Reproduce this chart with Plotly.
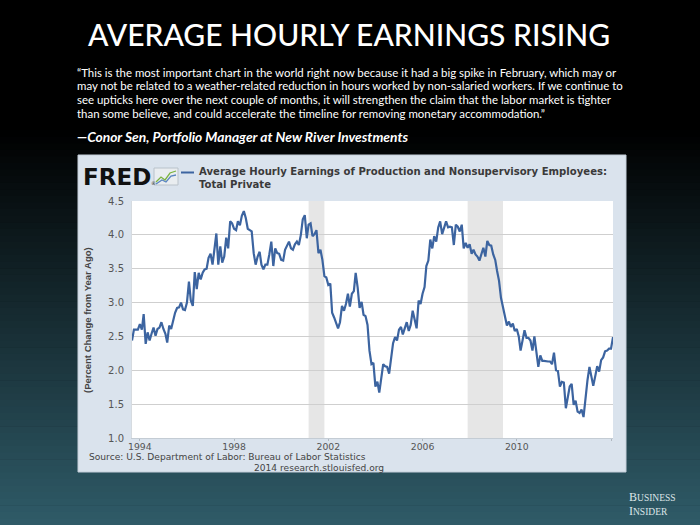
import plotly.graph_objects as go
import pandas as pd

# ---------------- data ----------------
series_start = "1993-09-01"
# Average Hourly Earnings of Production and Nonsupervisory Employees: Total Private,
# percent change from year ago (monthly)
ahe_yoy = [
    2.44, 2.60, 2.60, 2.60, 2.68, 2.60, 2.83, 2.39, 2.56, 2.44,
    2.54, 2.63, 2.51, 2.61, 2.63, 2.71, 2.61, 2.54, 2.41, 2.66,
    2.61, 2.76, 2.85, 2.92, 2.93, 3.00, 2.90, 2.89, 3.00, 3.31,
    3.03, 2.95, 3.45, 3.20, 3.44, 3.34, 3.44, 3.49, 3.50, 3.66,
    3.72, 3.56, 3.83, 4.02, 3.56, 3.83, 3.59, 3.68, 3.96, 3.80,
    4.20, 4.17, 4.09, 4.07, 4.20, 4.14, 4.28, 4.35, 4.25, 4.09,
    4.07, 4.05, 3.73, 3.56, 3.68, 3.75, 3.56, 3.49, 3.56, 3.56,
    3.71, 3.90, 3.54, 3.80, 3.73, 3.72, 3.63, 3.62, 3.78, 3.84,
    3.90, 3.80, 3.78, 3.86,
    3.90, 3.85, 4.00, 4.23, 4.29, 3.95, 4.15, 4.17, 3.98, 4.01,
    4.07, 3.73, 3.78, 3.63, 3.39, 3.37, 3.26, 3.28, 2.85, 2.78,
    2.71, 2.62, 2.71, 2.95, 2.88, 2.98, 3.13, 2.94, 3.13, 3.17,
    3.44, 3.22, 2.92, 3.01, 2.82, 2.80, 2.67, 2.29, 2.09, 2.11,
    1.76, 1.83, 1.67, 1.85, 2.09, 2.06, 2.05, 1.95, 2.17, 2.40,
    2.49, 2.44, 2.60, 2.64, 2.53, 2.64, 2.71, 2.58, 2.67, 2.88,
    2.72, 2.62, 3.03, 2.98, 3.13, 3.23, 3.54, 3.62, 3.93, 3.80,
    3.98, 3.90, 4.11, 4.20, 4.01, 4.12, 4.20, 4.11, 4.12, 4.11,
    3.85, 4.15, 4.12, 4.05,
    4.15, 3.80, 3.88, 3.81, 3.86, 3.72, 3.78, 3.71, 3.68, 3.62,
    3.72, 3.81, 3.68, 3.91, 3.85, 3.84, 3.71, 3.63, 3.47, 3.32,
    3.07, 2.93, 2.76, 2.66, 2.72, 2.64, 2.69, 2.58, 2.61, 2.50,
    2.29, 2.44, 2.59, 2.48, 2.48, 2.44, 2.29, 2.50, 2.24, 2.05,
    2.22, 2.14, 2.14, 2.13, 2.13, 2.13, 2.09, 2.26, 2.00, 1.99,
    1.76, 1.83, 1.82, 1.44, 1.60, 1.76, 1.80, 1.49, 1.55, 1.39,
    1.37, 1.42, 1.31, 1.61, 1.85, 2.05, 1.91, 1.77, 1.91, 2.06,
    1.98, 2.15, 2.19, 2.28, 2.29, 2.32, 2.32, 2.49,
]
months = pd.date_range(series_start, periods=len(ahe_yoy), freq="MS")

recession_start = ["2001-03-01", "2007-12-01"]
recession_end = ["2001-11-01", "2009-06-01"]

x_tick_dates = ["1994-01-01", "1998-01-01", "2002-01-01", "2006-01-01", "2010-01-01", "2014-01-01"]
x_tick_labels = ["1994", "1998", "2002", "2006", "2010", ""]
y_tick_values = [1.0, 1.5, 2.0, 2.5, 3.0, 3.5, 4.0, 4.5]

title_text = "AVERAGE HOURLY EARNINGS RISING"
quote_lines = [
    "\u201cThis is the most important chart in the world right now because it had a big spike in February, which may or",
    "may not be related to a weather-related reduction in hours worked by non-salaried workers. If we continue to",
    "see upticks here over the next couple of months, it will strengthen the claim that the labor market is tighter",
    "than some believe, and could accelerate the timeline for removing monetary accommodation.\u201d",
]
attribution = "\u2014Conor Sen, Portfolio Manager at New River Investments"
series_name = ["Average Hourly Earnings of Production and Nonsupervisory Employees:", "Total Private"]
source_lines = ["Source: U.S. Department of Labor: Bureau of Labor Statistics", "2014 research.stlouisfed.org"]
logo_lines = ["<span style='font-size:12px'>B</span>USINESS", "<span style='font-size:12px'>I</span>NSIDER"]

# ---------------- layout helpers ----------------
FW, FH = 700, 525
L, R, T, B = 132, 613, 201, 438


def px(x):
    return (x - L) / (R - L)


def py(y):
    return (B - y) / (B - T)


LINE_BLUE = "#3c64a0"

fig = go.Figure()
fig.add_trace(go.Scatter(
    x=months, y=ahe_yoy, mode="lines",
    line=dict(color=LINE_BLUE, width=2.2), hoverinfo="x+y", showlegend=False,
))

shapes = []
# background gradient (black top -> teal bottom)
g_top, g_bot = 130, 525
n_bands = 60
c0 = (0, 0, 0)
c1 = (47, 91, 104)
shapes.append(dict(type="rect", xref="paper", yref="paper", x0=px(0), x1=px(FW), y0=py(0), y1=py(g_top),
                   fillcolor="black", line_width=0, layer="below"))
for i in range(n_bands):
    t = (i + 0.5) / n_bands
    col = "rgb(%d,%d,%d)" % tuple(int(round(c0[k] + (c1[k] - c0[k]) * t)) for k in range(3))
    y0 = g_top + (g_bot - g_top) * i / n_bands
    y1 = g_top + (g_bot - g_top) * (i + 1) / n_bands + 0.6
    shapes.append(dict(type="rect", xref="paper", yref="paper", x0=px(0), x1=px(FW), y0=py(y1), y1=py(y0),
                       fillcolor=col, line_width=0, layer="below"))
# chart panel
shapes.append(dict(type="rect", xref="paper", yref="paper", x0=px(78), x1=px(626), y0=py(472), y1=py(155),
                   fillcolor="#dae3ed", line=dict(color="#c4ced9", width=1), layer="below"))
# plot area
shapes.append(dict(type="rect", xref="paper", yref="paper", x0=0, x1=1, y0=0, y1=1,
                   fillcolor="white", line_width=0, layer="below"))
# recessions
for s, e in zip(recession_start, recession_end):
    shapes.append(dict(type="rect", xref="x", yref="paper", x0=s, x1=e, y0=0, y1=1,
                       fillcolor="#e6e6e6", line_width=0, layer="below"))
# FRED icon
shapes.append(dict(type="rect", xref="paper", yref="paper", x0=px(154), x1=px(178), y0=py(185), y1=py(168),
                   fillcolor="#e9edf0", line=dict(color="#b9c2ca", width=1), layer="above"))
shapes.append(dict(type="path", xref="paper", yref="paper",
                   path="M %f,%f L %f,%f L %f,%f L %f,%f L %f,%f" % (
                       px(156), py(182), px(161), py(177), px(165), py(180), px(170), py(173), px(176), py(171)),
                   line=dict(color="#7cb342", width=1.3), layer="above"))
shapes.append(dict(type="path", xref="paper", yref="paper",
                   path="M %f,%f L %f,%f L %f,%f L %f,%f L %f,%f" % (
                       px(156), py(184), px(162), py(180), px(166), py(182), px(171), py(176), px(176), py(175)),
                   line=dict(color="#5a85c0", width=1.3), layer="above"))
# legend line sample
shapes.append(dict(type="line", xref="paper", yref="paper", x0=px(181), x1=px(194), y0=py(172.5), y1=py(172.5),
                   line=dict(color=LINE_BLUE, width=2), layer="above"))

ann = []
ann.append(dict(text=title_text, x=px(349), y=py(34), xref="paper", yref="paper", showarrow=False,
                xanchor="center", yanchor="middle",
                font=dict(family="Lato", size=30, weight=500, color="white")))
for i, line in enumerate(quote_lines):
    ann.append(dict(text=line, x=px(75), y=py(72 + i * 13.8), xref="paper", yref="paper", showarrow=False,
                    xanchor="left", yanchor="middle", font=dict(family="Lato", size=11.45, color="white")))
ann.append(dict(text="<b><i>" + attribution + "</i></b>", x=px(75), y=py(136), xref="paper", yref="paper",
                showarrow=False, xanchor="left", yanchor="middle",
                font=dict(family="Lato", size=13.8, color="white")))
ann.append(dict(text="<b>FRED</b>", x=px(81), y=py(177), xref="paper", yref="paper", showarrow=False,
                xanchor="left", yanchor="middle", font=dict(family="DejaVu Sans", size=23, color="#111111")))
ann.append(dict(text="\u00ae", x=px(149), y=py(183), xref="paper", yref="paper", showarrow=False,
                xanchor="left", yanchor="middle", font=dict(family="DejaVu Sans", size=5, color="#333333")))
ann.append(dict(text="<b>" + series_name[0] + "</b><br><b>" + series_name[1] + "</b>", x=px(197), y=py(178),
                xref="paper", yref="paper", showarrow=False, xanchor="left", yanchor="middle", align="left",
                font=dict(family="DejaVu Sans", size=10.1, color="#3a3a3a")))
ann.append(dict(text="<b>(Percent Change from Year Ago)</b>", x=px(87), y=py(320), xref="paper", yref="paper",
                showarrow=False, textangle=-90, xanchor="center", yanchor="middle",
                font=dict(family="Liberation Sans", size=9.5, color="#444444")))
ann.append(dict(text=source_lines[0], x=px(87), y=py(457), xref="paper", yref="paper", showarrow=False,
                xanchor="left", yanchor="middle", font=dict(family="DejaVu Sans", size=9.1, color="#444444")))
ann.append(dict(text=source_lines[1], x=px(252), y=py(467.5), xref="paper", yref="paper", showarrow=False,
                xanchor="left", yanchor="middle", font=dict(family="DejaVu Sans", size=9.1, color="#444444")))
for i, line in enumerate(logo_lines):
    ann.append(dict(text=line, x=px(627), y=py(496.5 + i * 14), xref="paper", yref="paper", showarrow=False,
                    xanchor="left", yanchor="middle",
                    font=dict(family="Liberation Serif", size=9.5, color="#dde5e8")))

fig.update_layout(
    width=FW, height=FH,
    margin=dict(l=L, r=FW - R, t=T, b=FH - B, pad=0),
    paper_bgcolor="black", plot_bgcolor="rgba(0,0,0,0)",
    shapes=shapes, annotations=ann, showlegend=False,
    xaxis=dict(type="date", range=[months[0], months[-1]], tickvals=x_tick_dates, ticktext=x_tick_labels,
               showgrid=False, zeroline=False, showline=True, linecolor="#c4ccd4", linewidth=1,
               ticks="outside", ticklen=2, tickcolor="#b0b8c0", ticklabelstandoff=-2,
               tickfont=dict(family="DejaVu Sans", size=9.3, color="#555555")),
    yaxis=dict(range=[1.0, 4.5], tickvals=y_tick_values, tickformat=".1f", showgrid=True,
               gridcolor="#cfcfcf", gridwidth=1, zeroline=False, showline=True, linecolor="#d6dbe0",
               ticks="", ticklabelstandoff=5,
               tickfont=dict(family="DejaVu Sans", size=10, color="#555555")),
)

fig.write_html("out.html", config={"displayModeBar": False},
               post_script="document.body.style.margin='0';document.body.style.padding='0';"
                           "document.body.style.background='black';")
